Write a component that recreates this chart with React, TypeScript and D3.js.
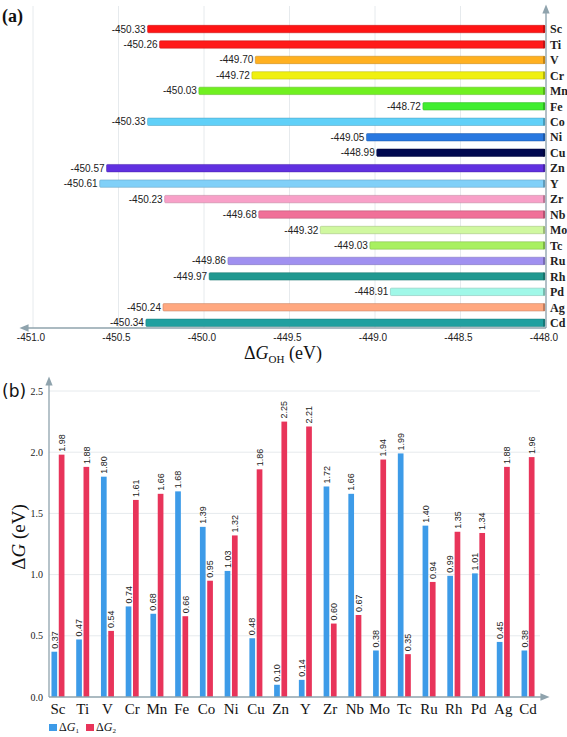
import React from "react";
import * as d3 from "d3";

const metals = ["Sc","Ti","V","Cr","Mn","Fe","Co","Ni","Cu","Zn","Y","Zr","Nb","Mo","Tc","Ru","Rh","Pd","Ag","Cd"];
const gOH = [-450.33,-450.26,-449.70,-449.72,-450.03,-448.72,-450.33,-449.05,-448.99,-450.57,-450.61,-450.23,-449.68,-449.32,-449.03,-449.86,-449.97,-448.91,-450.24,-450.34];
const barColors = ["#ff1414","#ff1a1a","#ffb020","#f0f010","#70f020","#40ee30","#60d0f8","#2878e0","#000850","#6030e0","#80d0f8","#f8a0c8","#f07098","#d0f8a0","#a8f060","#a090f0","#209890","#a0f8e8","#ffa880","#20a0a0"];
const xTicksA = [-451.0,-450.5,-450.0,-449.5,-449.0,-448.5,-448.0];
const dG1 = [0.37,0.47,1.80,0.74,0.68,1.68,1.39,1.03,0.48,0.10,0.14,1.72,1.66,0.38,1.99,1.40,0.99,1.01,0.45,0.38];
const dG2 = [1.98,1.88,0.54,1.61,1.66,0.66,0.95,1.32,1.86,2.25,2.21,0.60,0.67,1.94,0.35,0.94,1.35,1.34,1.88,1.96];
const yTicksB = [0.0,0.5,1.0,1.5,2.0,2.5];

const AX = "#8fa3ad";
const GRID = "#e6eaed";
const BLUE = "#3d9be8";
const RED = "#e8345a";

export default function App() {
  // Panel (a)
  const xA = d3.scaleLinear().domain([-451, -448]).range([33, 546]);
  const yA = d3.scaleBand().domain(metals).range([21.3, 330.5]).paddingInner(0.52).paddingOuter(0.26);
  const axisYA = 328;

  // Panel (b)
  const yB = d3.scaleLinear().domain([0, 2.5]).range([697, 391]);
  const xB = d3.scaleBand().domain(metals).range([45.6, 540.4]);
  const inner = d3.scaleBand().domain(["g1", "g2"]).range([0, 13]).paddingInner(0.22);

  const sans = "'Liberation Sans', Arial, sans-serif";
  const serif = "'Liberation Serif', 'Times New Roman', serif";

  return (
    <div style={{ position: "absolute", left: 0, top: 0 }}>
      <svg width={567} height={737} style={{ display: "block", background: "#fff" }}>
        <defs>
          <marker id="arr" viewBox="0 0 10 10" refX="5" refY="5" markerWidth="7" markerHeight="7" orient="auto">
            <path d="M0,1 L10,5 L0,9 z" fill={AX} />
          </marker>
        </defs>

        {/* ---------- Panel (a) ---------- */}
        <text x={2} y={22} fontFamily={serif} fontWeight="bold" fontSize={18} fill="#111">(a)</text>
        {xTicksA.map((t) => (
          <line key={"ga" + t} x1={xA(t)} x2={xA(t)} y1={6} y2={axisYA} stroke={GRID} strokeWidth={1} />
        ))}
        {metals.map((m, i) => {
          const y0 = yA(m)!;
          const h = yA.bandwidth();
          const x0 = xA(gOH[i]);
          const x1 = xA(-448) - 1;
          const c = barColors[i];
          const dk = d3.color(c)!.darker(0.8).formatHex();
          return (
            <g key={"ba" + m}>
              <rect x={x0} y={y0} width={x1 - x0} height={h} fill={c} stroke={dk} strokeWidth={0.5} rx={1} />
              <rect x={x1 - 2} y={y0} width={2} height={h} fill={dk} />
              <text x={x0 - 2} y={y0 + h / 2} dy="0.35em" textAnchor="end" fontFamily={sans} fontSize={10} fill="#222">
                {gOH[i].toFixed(2)}
              </text>
              <text x={550} y={y0 + h / 2} dy="0.35em" fontFamily={serif} fontWeight="bold" fontSize={12} fill="#222">
                {m}
              </text>
            </g>
          );
        })}
        <line x1={546} x2={546} y1={axisYA} y2={9} stroke={AX} strokeWidth={1.3} markerEnd="url(#arr)" />
        <line x1={546} x2={24} y1={axisYA} y2={axisYA} stroke={AX} strokeWidth={1.3} markerEnd="url(#arr)" />
        {xTicksA.map((t) => (
          <text key={"ta" + t} x={xA(t) - 2} y={341} textAnchor="middle" fontFamily={sans} fontSize={10} fill="#222">
            {t.toFixed(1)}
          </text>
        ))}
        <text x={283} y={359} textAnchor="middle" fontFamily={serif} fontSize={18} fill="#111">
          Δ<tspan fontStyle="italic">G</tspan>
          <tspan fontSize={11} dy={4}>OH</tspan>
          <tspan dy={-4}> (eV)</tspan>
        </text>

        {/* ---------- Panel (b) ---------- */}
        <text x={2} y={397} fontFamily={"'DejaVu Sans', sans-serif"} fontSize={17} fill="#111">(b)</text>
        {yTicksB.filter((t) => t > 0).map((t) => (
          <line key={"gb" + t} x1={49} x2={540} y1={yB(t)} y2={yB(t)} stroke={GRID} strokeWidth={1} />
        ))}
        {yTicksB.map((t) => (
          <text key={"tb" + t} x={43} y={yB(t)} dy="0.35em" textAnchor="end" fontFamily={serif} fontSize={10} fill="#222">
            {t.toFixed(1)}
          </text>
        ))}
        {metals.map((m, i) => {
          const cx = xB(m)!;
          const off = (xB.bandwidth() - 13) / 2;
          const bw = inner.bandwidth();
          const xb1 = cx + off + inner("g1")!;
          const xb2 = cx + off + inner("g2")!;
          const vals = [
            { x: xb1, v: dG1[i], c: BLUE },
            { x: xb2, v: dG2[i], c: RED },
          ];
          return (
            <g key={"bb" + m}>
              {vals.map((d, j) => (
                <g key={j}>
                  <rect x={d.x} y={yB(d.v)} width={bw} height={yB(0) - yB(d.v)} fill={d.c} />
                  <text
                    transform={`translate(${d.x + bw / 2 + 3.2},${yB(d.v) - 3}) rotate(-90)`}
                    fontFamily={sans}
                    fontSize={9}
                    fill="#222"
                  >
                    {d.v.toFixed(2)}
                  </text>
                </g>
              ))}
              <text x={cx + xB.bandwidth() / 2} y={714} textAnchor="middle" fontFamily={serif} fontSize={15} fill="#111">
                {m}
              </text>
            </g>
          );
        })}
        <line x1={49} x2={49} y1={697} y2={381} stroke={AX} strokeWidth={1.3} markerEnd="url(#arr)" />
        <line x1={49} x2={545} y1={697} y2={697} stroke={AX} strokeWidth={1.3} markerEnd="url(#arr)" />
        <text transform="translate(25,537) rotate(-90)" textAnchor="middle" fontFamily={serif} fontSize={19} fill="#111">
          Δ<tspan fontStyle="italic">G</tspan> (eV)
        </text>

        {/* legend */}
        <rect x={49} y={724} width={8} height={7} fill={BLUE} />
        <text x={59} y={731} fontFamily={serif} fontSize={12} fill="#111">
          Δ<tspan fontStyle="italic">G</tspan><tspan fontSize={7} dy={2}>1</tspan>
        </text>
        <rect x={86} y={724} width={8} height={7} fill={RED} />
        <text x={96} y={731} fontFamily={serif} fontSize={12} fill="#111">
          Δ<tspan fontStyle="italic">G</tspan><tspan fontSize={7} dy={2}>2</tspan>
        </text>
      </svg>
    </div>
  );
}
